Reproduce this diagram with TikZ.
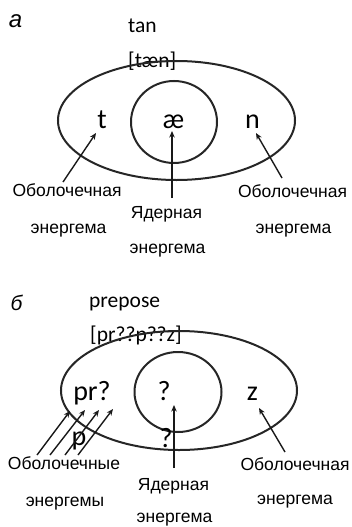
\documentclass[tikz,border=0pt]{standalone}
\usepackage{fontspec}
\setmainfont{Liberation Sans}
\newfontfamily\calfnt{Carlito}
\usetikzlibrary{arrows.meta}
\begin{document}
\begin{tikzpicture}[x=1pt,y=-1pt,
  ring/.style={draw=black!85,line width=2pt},
  ptr/.style={draw=black!90,line width=1.4pt,-{Stealth[length=6.5pt,width=5.5pt]}},
  lbl/.style={inner sep=0pt,anchor=base,font=\fontsize{17.5}{20}\selectfont},
  snd/.style={inner sep=0pt,anchor=base,font=\calfnt\fontsize{28}{30}\selectfont},
  word/.style={inner sep=0pt,anchor=base west,font=\calfnt\fontsize{21.5}{24}\selectfont},
  tag/.style={inner sep=0pt,anchor=base,font=\itshape\fontsize{24}{26}\selectfont}]
\useasboundingbox (0,0) rectangle (351,527);

% ---------- part a ----------
\node[tag] (taga) at (15.5,28) {а};
\node[word] (tan) at (128,33) {tan};
\node[word] (tanipa) at (128,67) {[tæn]};
\draw[ring] (176.5,120.5) ellipse [x radius=118.5, y radius=59.5];
\draw[ring] (174,122) ellipse [x radius=43, y radius=41];
\node[snd] (ta) at (102,128) {t};
\node[snd] (ae) at (173.5,128) {æ};
\node[snd] (na) at (252.5,128) {n};

\node[lbl] (la1) at (67,196) {Оболочечная};
\node[lbl] (la2) at (68.5,233) {энергема};
\node[lbl] (ca1) at (166.5,218) {Ядерная};
\node[lbl] (ca2) at (167.5,253) {энергема};
\node[lbl] (ra1) at (292.5,197) {Оболочечная};
\node[lbl] (ra2) at (293.5,233) {энергема};

\coordinate (las) at (63,182);  \coordinate (lat) at (96,133);
\coordinate (cas) at (172,198); \coordinate (cat) at (172,131);
\coordinate (ras) at (282,178); \coordinate (rat) at (256,133);
\draw[ptr] (las) -- (lat);
\draw[ptr] (cas) -- (cat);
\draw[ptr] (ras) -- (rat);

% ---------- part b ----------
\node[tag,font=\itshape\fontsize{21}{24}\selectfont] (tagb) at (16.5,310) {б};
\node[word] (prep) at (89,307) {prepose};
\node[word] (prepipa) at (90,341) {[pr??p??z]};
\draw[ring] (179,390.5) ellipse [x radius=118, y radius=59.5];
\draw[ring] (178,392) ellipse [x radius=43.5, y radius=40];
\node[snd] (prq) at (92,400) {pr?};
\node[snd] (qb) at (164,400) {?};
\node[snd] (zb) at (252.5,400) {z};
\node[snd] (pb) at (79,445) {p};
\node[snd] (qb2) at (166,447) {?};

\node[lbl] (lb1) at (64,469) {Оболочечные};
\node[lbl] (lb2) at (65,506) {энергемы};
\node[lbl] (cb1) at (173.5,490) {Ядерная};
\node[lbl] (cb2) at (174.5,522) {энергема};
\node[lbl] (rb1) at (295,470) {Оболочечная};
\node[lbl] (rb2) at (295,504) {энергема};

\coordinate (s1) at (37,455);  \coordinate (t1) at (70,411);
\coordinate (s2) at (50,455);  \coordinate (t2) at (85,410);
\coordinate (s3) at (65,455);  \coordinate (t3) at (99,410);
\coordinate (s4) at (78,455);  \coordinate (t4) at (113,409);
\coordinate (cbs) at (174,468); \coordinate (cbt) at (174,405);
\coordinate (rbs) at (285,452); \coordinate (rbt) at (259,408);
\draw[ptr] (s1) -- (t1);
\draw[ptr] (s2) -- (t2);
\draw[ptr] (s3) -- (t3);
\draw[ptr] (s4) -- (t4);
\draw[ptr] (cbs) -- (cbt);
\draw[ptr] (rbs) -- (rbt);
\end{tikzpicture}
\end{document}
